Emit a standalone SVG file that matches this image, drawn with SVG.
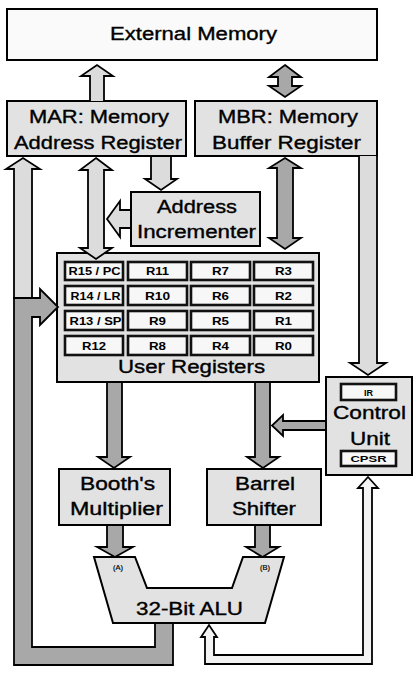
<svg xmlns="http://www.w3.org/2000/svg" width="419" height="678" viewBox="0 0 419 678">
<style>
.box{fill:#e2e2e2;stroke:#000;stroke-width:2}
.ext{fill:#fafafa;stroke:#000;stroke-width:2}
.cell{fill:#f7f7f7;stroke:#111;stroke-width:2.6}
.lt{fill:#dcdcdc;stroke:#000;stroke-width:1.8;stroke-linejoin:miter}
.dk{fill:#a8a8a8;stroke:#000;stroke-width:1.8;stroke-linejoin:miter}
.hol{fill:#f3f3f3;stroke:#000;stroke-width:1.8;stroke-linejoin:miter}
text{font-family:"Liberation Sans",Arial,sans-serif;text-anchor:middle;fill:#000}
.lbl{font-size:18px;stroke:#000;stroke-width:0.35}
.reg{font-size:11px;font-weight:bold}
.sm{font-size:9px;font-weight:bold}
.tiny{font-size:7.5px;stroke:#000;stroke-width:0.2}
</style>
<rect width="419" height="678" fill="#fff"/>
<g id="external-memory">
<rect class="ext" x="7" y="9" width="370" height="51"/>
<text class="lbl" x="193.5" y="40" textLength="167" lengthAdjust="spacingAndGlyphs">External Memory</text>
</g>
<g id="mar">
<rect class="box" x="7" y="101" width="179" height="55"/>
<text class="lbl" x="99" y="123" textLength="140" lengthAdjust="spacingAndGlyphs">MAR: Memory</text>
<text class="lbl" x="98" y="149" textLength="168" lengthAdjust="spacingAndGlyphs">Address Register</text>
</g>
<g id="mbr">
<rect class="box" x="195" y="101" width="182" height="55"/>
<text class="lbl" x="288" y="123" textLength="140" lengthAdjust="spacingAndGlyphs">MBR: Memory</text>
<text class="lbl" x="286.5" y="149" textLength="149" lengthAdjust="spacingAndGlyphs">Buffer Register</text>
</g>
<g id="address-incrementer">
<rect class="box" x="131" y="192" width="129" height="54"/>
<text class="lbl" x="197" y="213" textLength="80" lengthAdjust="spacingAndGlyphs">Address</text>
<text class="lbl" x="196.5" y="238" textLength="119" lengthAdjust="spacingAndGlyphs">Incrementer</text>
</g>
<g id="user-registers">
<rect class="box" x="57" y="253" width="262" height="129"/>
<rect class="cell" x="65" y="262" width="58" height="18"/>
<rect class="cell" x="128" y="262" width="59" height="18"/>
<rect class="cell" x="191" y="262" width="59" height="18"/>
<rect class="cell" x="254" y="262" width="59" height="18"/>
<rect class="cell" x="65" y="286" width="58" height="19"/>
<rect class="cell" x="128" y="286" width="59" height="19"/>
<rect class="cell" x="191" y="286" width="59" height="19"/>
<rect class="cell" x="254" y="286" width="59" height="19"/>
<rect class="cell" x="65" y="311" width="58" height="19"/>
<rect class="cell" x="128" y="311" width="59" height="19"/>
<rect class="cell" x="191" y="311" width="59" height="19"/>
<rect class="cell" x="254" y="311" width="59" height="19"/>
<rect class="cell" x="65" y="336" width="58" height="19"/>
<rect class="cell" x="128" y="336" width="59" height="19"/>
<rect class="cell" x="191" y="336" width="59" height="19"/>
<rect class="cell" x="254" y="336" width="59" height="19"/>
<text class="reg" x="94.5" y="275" textLength="52" lengthAdjust="spacingAndGlyphs">R15 / PC</text>
<text class="reg" x="157.5" y="275" textLength="23" lengthAdjust="spacingAndGlyphs">R11</text>
<text class="reg" x="220.5" y="275" textLength="17" lengthAdjust="spacingAndGlyphs">R7</text>
<text class="reg" x="283.5" y="275" textLength="17" lengthAdjust="spacingAndGlyphs">R3</text>
<text class="reg" x="95.5" y="299.5" textLength="50" lengthAdjust="spacingAndGlyphs">R14 / LR</text>
<text class="reg" x="157.5" y="299.5" textLength="25" lengthAdjust="spacingAndGlyphs">R10</text>
<text class="reg" x="220.5" y="299.5" textLength="17" lengthAdjust="spacingAndGlyphs">R6</text>
<text class="reg" x="283.5" y="299.5" textLength="17" lengthAdjust="spacingAndGlyphs">R2</text>
<text class="reg" x="95.5" y="324.5" textLength="52" lengthAdjust="spacingAndGlyphs">R13 / SP</text>
<text class="reg" x="157.5" y="324.5" textLength="17" lengthAdjust="spacingAndGlyphs">R9</text>
<text class="reg" x="220.5" y="324.5" textLength="17" lengthAdjust="spacingAndGlyphs">R5</text>
<text class="reg" x="283.5" y="324.5" textLength="17" lengthAdjust="spacingAndGlyphs">R1</text>
<text class="reg" x="94" y="349.5" textLength="24" lengthAdjust="spacingAndGlyphs">R12</text>
<text class="reg" x="157.5" y="349.5" textLength="17" lengthAdjust="spacingAndGlyphs">R8</text>
<text class="reg" x="220.5" y="349.5" textLength="17" lengthAdjust="spacingAndGlyphs">R4</text>
<text class="reg" x="283.5" y="349.5" textLength="17" lengthAdjust="spacingAndGlyphs">R0</text>
<text class="lbl" x="191.5" y="373" textLength="147" lengthAdjust="spacingAndGlyphs">User Registers</text>
</g>
<g id="control-unit">
<rect class="box" x="326" y="377" width="86" height="98"/>
<rect class="cell" x="341" y="384" width="55" height="16"/>
<rect class="cell" x="341" y="451" width="55" height="15"/>
<text class="sm" x="368.5" y="395.5">IR</text>
<text class="lbl" x="369.5" y="419" textLength="73" lengthAdjust="spacingAndGlyphs">Control</text>
<text class="lbl" x="370" y="445" textLength="40" lengthAdjust="spacingAndGlyphs">Unit</text>
<text class="sm" x="368.5" y="462" textLength="36" lengthAdjust="spacingAndGlyphs">CPSR</text>
</g>
<g id="booths-multiplier">
<rect class="box" x="59" y="469" width="111" height="56"/>
<text class="lbl" x="117.5" y="490" textLength="75" lengthAdjust="spacingAndGlyphs">Booth's</text>
<text class="lbl" x="116.5" y="515" textLength="93" lengthAdjust="spacingAndGlyphs">Multiplier</text>
</g>
<g id="barrel-shifter">
<rect class="box" x="207" y="469" width="114" height="56"/>
<text class="lbl" x="265" y="490" textLength="60" lengthAdjust="spacingAndGlyphs">Barrel</text>
<text class="lbl" x="264" y="515" textLength="64" lengthAdjust="spacingAndGlyphs">Shifter</text>
</g>
<g id="alu">
<polygon class="box" points="94,557 135,557 147,588 232,588 243,557 284,557 265,623 113,623"/>
<text class="tiny" x="118" y="570">(A)</text>
<text class="tiny" x="265" y="570">(B)</text>
<text class="lbl" x="189.5" y="615" textLength="107" lengthAdjust="spacingAndGlyphs">32-Bit ALU</text>
</g>
<g id="connectors">
<path class="lt" d="M90,101 V76 H81 L97,65 L113,76 H104 V101"/>
<path class="dk" d="M285,65 L301,77 H292 V86 H301 L285,97 L269,86 H278 V77 H269 Z"/>
<path class="lt" d="M96,158 L112,170 H104 V248 H112 L96,259 L80,248 H88 V170 H80 Z"/>
<path class="lt" d="M151,157 V179 H145 L161,190 L177,179 H171 V157"/>
<path class="lt" d="M130,210 H120 V201 L107,219 L120,237 V228 H130"/>
<path class="dk" d="M285,158 L301,168 H293 V238 H301 L285,249 L269,238 H277 V168 H269 Z"/>
<path class="lt" d="M359,156 V363 H350 L368,375 L386,363 H377 V156"/>
<path class="dk" d="M325,421 H283 V415 L272,425.5 L283,436 V430 H325"/>
<path class="dk" d="M107,383 V457 H98 L114,468 L130,457 H122 V383"/>
<path class="dk" d="M255,383 V457 H247 L263,468 L279,457 H270 V383"/>
<path class="dk" d="M107,526 V547 H97 L115,557 L133,547 H123 V526"/>
<path class="dk" d="M255,526 V547 H246 L262.5,557 L279,547 H270 V526"/>
<path class="dk" d="M173,624 V665 H14 V298 H40 V289 L58,307 L40,325 V317 H32 V647 H155 V624"/>
<path class="lt" d="M14,298 V169 H6 L23,158 L40,169 H32 V298 Z"/>
<path class="hol" d="M368,477 L378,488 H372 V664 H205 V637 H201 L209,625 L217,637 H214 V655 H363 V488 H358 Z"/>
</g>
</svg>
